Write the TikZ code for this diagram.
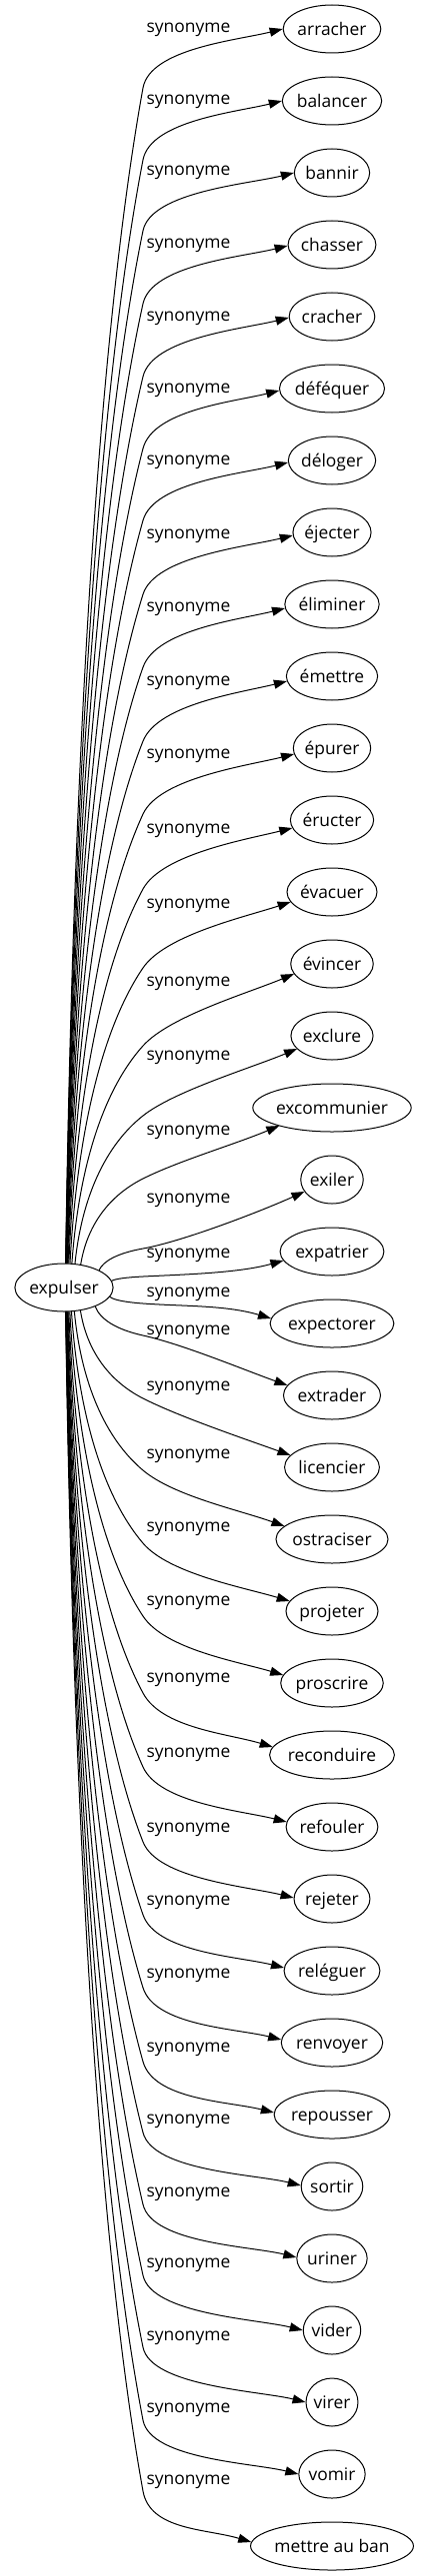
\documentclass[tikz,border=0pt]{standalone}
\usepackage{fontspec}
\setmainfont{Open Sans}
\usetikzlibrary{arrows.meta,calc,shapes.geometric}
\newlength{\twd}
\newcommand{\wfont}{\fontsize{17.4}{20}\selectfont}
\begin{document}
\begin{tikzpicture}[x=1pt,y=-1pt,
  wordnode/.style={ellipse, draw, line width=1pt, inner xsep=0pt, inner ysep=0pt,
    minimum height=48pt, text height=15pt, text depth=1.6pt, font=\wfont},
  rel/.style={inner sep=0pt, font=\wfont},
  edgeline/.style={draw, line width=1pt, -{Triangle[length=13pt,width=9pt]}}]
\useasboundingbox (0,0) rectangle (423,2579);
\settowidth{\twd}{\wfont expulser}
\node[wordnode, minimum width={1.15*\twd+33.7pt}] (root) at (64,1289) {expulser};
\foreach \i/\txt/\lby/\kny/\tdy/\sl in {
0/arracher/30/88/0/0.25,
1/balancer/102/160/0/0.25,
2/bannir/173/231/0/0.25,
3/chasser/246/304/1/0.25,
4/cracher/319/377/1/0.25,
5/déféquer/391/449/2/0.25,
6/déloger/463/521/2/0.25,
7/éjecter/537/595/3/0.25,
8/éliminer/610/668/4/0.25,
9/émettre/684/742/5/0.25,
10/épurer/757/815/6/0.25,
11/éructer/832/890/8/0.25,
12/évacuer/907/969/10/0.33,
13/évincer/985/1047/10/0.42,
14/exclure/1059/1117/13/0.42,
15/excommunier/1134/1180/18/0.42,
16/exiler/1202/1250/12/0.45,
17/expatrier/1257/1278/9/0.28,
18/expectorer/1296/1305/-5/-0.3,
19/extrader/1334/1337/-10/-0.36,
20/licencier/1390/1400/-12/-0.36,
21/ostraciser/1458/1472/-13/-0.36,
22/projeter/1531/1545/-10/-0.3,
23/proscrire/1605/1618/-8/-0.3,
24/reconduire/1682/1695/-8/-0.3,
25/refouler/1757/1769/-5/-0.25,
26/rejeter/1832/1844/-1/-0.25,
27/reléguer/1905/1917/-3/-0.25,
28/renvoyer/1978/1990/-3/-0.25,
29/repousser/2052/2064/-2/-0.25,
30/sortir/2124/2135/-1/-0.25,
31/uriner/2197/2207/-1/-0.25,
32/vider/2268/2278/0/-0.25,
33/virer/2341/2350/0/-0.25,
34/vomir/2413/2423/0/-0.25,
35/mettre au ban/2485/2494/-4/-0.3}{
  \pgfmathsetmacro\ty{29+72*\i}
  \settowidth{\twd}{\wfont \txt}
  \node[wordnode, minimum width={1.15*\twd+33.7pt}] (t\i) at (332,\ty) {\txt};
  \node[rel] (l\i) at (188.5,\lby) {synonyme};
  \coordinate (k\i) at (143,\kny);
  \path (root) -- coordinate[pos=0] (s\i) (k\i);
  \coordinate (e\i) at ($(t\i.center)!{sqrt(1-(\tdy/24)^2)}!(t\i.west) + (0,\tdy)$);
  \draw[edgeline] let \p1=(s\i), \p2=(k\i), \p3=(e\i),
    \n1={veclen(0.55*(\x2-\x1),0.2*(\y2-\y1))} in
    (s\i) .. controls ({\x1+0.1*(\x2-\x1)},{\y1+0.45*(\y2-\y1)})
             and ({\x1+0.45*(\x2-\x1)},{\y1+0.8*(\y2-\y1)}) .. (k\i)
          .. controls ({\x2+22*(\x2-\x1)/\n1},{\y2+8*(\y2-\y1)/\n1})
             and ({\x3-45pt},{\y3-\sl*45pt}) .. (e\i);
}
\end{tikzpicture}
\end{document}
